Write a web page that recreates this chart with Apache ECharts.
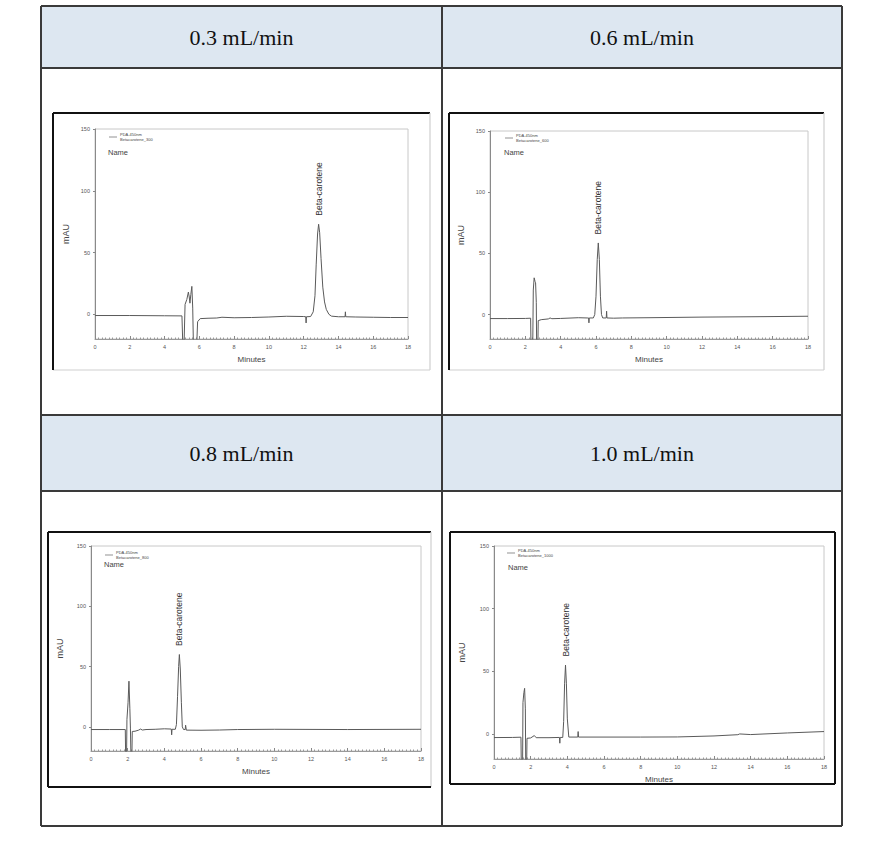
<!DOCTYPE html>
<html><head><meta charset="utf-8">
<script src="https://cdn.jsdelivr.net/npm/echarts@6/dist/echarts.min.js"></script>
<style>html,body{margin:0;padding:0;background:#fff}#c{width:881px;height:843px}</style>
</head><body><div id="c"></div><script>
// ---------- data ----------
const headers = ['0.3 mL/min', '0.6 mL/min', '0.8 mL/min', '1.0 mL/min'];
const detector = 'PDA-450nm';
const sampleNames = ['Betacarotene_300', 'Betacarotene_600', 'Betacarotene_800', 'Betacarotene_1000'];
const compound = 'Beta-carotene';
const nameLabel = 'Name';
const yTickValues = [0, 50, 100, 150];

// [minutes, mAU]
const trace03 = [[0,-1.0],[2,-1.0],[4,-1.2],[5.0,-1.3],[5.05,-25],[5.12,-25],[5.18,8],[5.28,12],[5.37,18],[5.42,14],[5.46,9],[5.51,16],[5.57,22.6],[5.62,5],[5.66,-25],[5.85,-25],[5.9,-6],[6.05,-3.5],[6.5,-3.2],[7,-3.0],[7.3,-2.4],[8,-2.8],[9,-2.6],[10,-2.2],[11,-1.6],[12,-1.8],[12.12,-2],[12.14,-7],[12.16,-2],[12.4,-1.8],[12.55,2],[12.65,15],[12.72,40],[12.8,65],[12.86,72.9],[12.92,66],[13.0,45],[13.1,22],[13.2,10],[13.3,4],[13.45,0],[13.6,-1.5],[14,-2],[14.38,-2],[14.4,2],[14.42,-2],[15,-2.2],[16,-2.4],[17,-2.6],[18,-2.6]];
const trace06 = [[0,-3.3],[1,-3.3],[2,-3.2],[2.3,-3.0],[2.32,-25],[2.42,-25],[2.45,20],[2.5,30],[2.55,27],[2.58,26],[2.62,10],[2.64,-25],[2.71,-25],[2.73,-5],[2.9,-4.2],[3.3,-3.6],[3.4,-2.8],[3.5,-3.4],[4,-3.2],[5,-2.6],[5.5,-2.8],[5.58,-2.8],[5.6,-6.8],[5.62,-2.8],[5.85,-2.8],[5.93,0],[6.0,15],[6.07,45],[6.13,58.5],[6.19,45],[6.25,15],[6.31,0],[6.38,-2.8],[6.58,-2.8],[6.6,2.7],[6.62,-2.8],[7,-3.0],[7.5,-2.8],[9,-2.6],[12,-2.1],[15,-1.8],[18,-1.4]];
const trace08 = [[0,-2.2],[1,-2.2],[1.87,-2.2],[1.89,-25],[1.94,-25],[1.96,6],[2.02,20],[2.07,37.9],[2.12,15],[2.15,-1],[2.17,-1],[2.18,-25],[2.23,-25],[2.25,-3.8],[2.4,-3.6],[2.6,-2.7],[2.7,-1.8],[2.8,-2.6],[3,-2.2],[3.5,-2],[4,-1.6],[4.38,-1.8],[4.4,-6.6],[4.42,-2],[4.6,-2],[4.66,2],[4.72,25],[4.78,50],[4.82,60],[4.87,48],[4.93,20],[4.98,0],[5.05,-2.2],[5.14,-2.2],[5.16,1.4],[5.2,-2.7],[6,-2.8],[7,-2.6],[8,-2.2],[10,-2.0],[14,-2.2],[18,-2.0]];
const trace10 = [[0,-2.9],[1,-2.8],[1.47,-2.6],[1.49,-25],[1.56,-25],[1.58,25],[1.63,33],[1.67,36.4],[1.71,20],[1.73,-25],[1.78,-25],[1.8,-3.5],[2.0,-3.2],[2.2,-1.3],[2.3,-3],[3,-3],[3.57,-2.8],[3.59,-7.4],[3.61,-2.8],[3.75,-2.8],[3.8,10],[3.85,40],[3.9,55],[3.95,40],[4.0,12],[4.08,-2.5],[4.57,-2.5],[4.59,1.9],[4.61,-2.5],[6,-2.5],[8,-2.5],[10,-2.4],[12,-1.6],[13.3,-0.6],[13.4,0],[14,-0.5],[16,0.8],[18,1.9]];
const traces = [trace03, trace06, trace08, trace10];

// ---------- layout ----------
const grids = [
  {left: 95, top: 129, width: 313, height: 210},
  {left: 490, top: 131, width: 318, height: 208},
  {left: 91, top: 546, width: 330, height: 205},
  {left: 494, top: 546, width: 330, height: 213}
];
const yNameGaps = [25, 25, 27, 28];
const boxes = [ // x0,y0,x1,y1, dark sides [top,right,bottom,left]
  [53,113,430,370,[1,0,0,1]],
  [449,113,824,370,[1,0,0,1]],
  [48,532,431,787,[1,0,1,1]],
  [450,532,835,784,[1,1,1,1]]
];
const legendPos = [[109,131],[505,132],[105,549],[507,547]];
const namePos = [[108,152],[504,152],[104,564],[508,567]];
const headerPos = [[241.5,37],[642,37],[241.5,453],[642,453]];

const seriesNames = sampleNames.map(s => detector + '\n' + s);

const graphic = [];
graphic.push({type:'rect', z:-10, shape:{x:41,y:6,width:801,height:62}, style:{fill:'#dde7f1'}});
graphic.push({type:'rect', z:-10, shape:{x:41,y:415,width:801,height:76}, style:{fill:'#dde7f1'}});
boxes.forEach(b => {
  const [x0,y0,x1,y1,d] = b;
  graphic.push({type:'rect', z:-9, shape:{x:x0,y:y0,width:x1-x0,height:y1-y0}, style:{fill:'#fff'}});
  const sides = [[x0,y0,x1,y0],[x1,y0,x1,y1],[x0,y1,x1,y1],[x0,y0,x0,y1]];
  sides.forEach((s,k) => {
    graphic.push({type:'line', z:-8, shape:{x1:s[0],y1:s[1],x2:s[2],y2:s[3]},
      style:{stroke: d[k] ? '#111' : '#cfcfcf', lineWidth: d[k] ? 2 : 1.2}});
  });
});
const tl = {stroke:'#3a3a3a', lineWidth:2};
[[41,6,842,6],[41,68,842,68],[41,415,842,415],[41,491,842,491],[41,826,842,826],
 [41,6,41,826],[442,6,442,826],[842,6,842,826]].forEach(s => {
  graphic.push({type:'line', z:-7, shape:{x1:s[0],y1:s[1],x2:s[2],y2:s[3]}, style:tl});
});
headers.forEach((h,i) => {
  graphic.push({type:'text', z:10, x:headerPos[i][0], y:headerPos[i][1],
    style:{text:h, fill:'#111', font:'22px "Liberation Serif", "DejaVu Serif", serif', textAlign:'center', textVerticalAlign:'middle'}});
});
namePos.forEach(p => {
  graphic.push({type:'text', z:10, x:p[0], y:p[1],
    style:{text:nameLabel, fill:'#444', font:'7.5px Arial, "Liberation Sans", sans-serif', textAlign:'left', textVerticalAlign:'middle'}});
});

const option = {
  animation: false,
  backgroundColor: '#fff',
  graphic: graphic,
  grid: grids.map(g => Object.assign({show:true, borderColor:'#c8c8c8', borderWidth:1, backgroundColor:'rgba(0,0,0,0)', z:4}, g)),
  legend: seriesNames.map((n,i) => ({
    data:[n], left:legendPos[i][0], top:legendPos[i][1], padding:0, itemGap:0,
    icon:'rect', itemWidth:8, itemHeight:0.8, selectedMode:false,
    textStyle:{fontSize:4, lineHeight:6, color:'#444', padding:[0,0,0,-2]}, z:12
  })),
  xAxis: grids.map((g,i) => ({
    type:'value', gridIndex:i, min:0, max:18, interval:2, z:8,
    axisLine:{show:true, onZero:false, lineStyle:{color:'#9a9a9a', width:1}},
    axisTick:{show:true, inside:true, length:3, lineStyle:{color:'#888'}},
    minorTick:{show:true, splitNumber:10, length:1.5, lineStyle:{color:'#999'}},
    axisLabel:{fontSize:5.5, color:'#555', margin:5, fontFamily:'Arial'},
    splitLine:{show:false},
    name:'Minutes', nameLocation:'middle', nameGap:16,
    nameTextStyle:{fontSize:8, color:'#444', fontFamily:'Arial'}
  })),
  yAxis: grids.map((g,i) => ({
    type:'value', gridIndex:i, min:-20, max:150, z:8,
    axisLine:{show:true, onZero:false, lineStyle:{color:'#8a8a8a', width:1}},
    axisTick:{show:true, customValues:yTickValues, length:2, lineStyle:{color:'#888'}},
    axisLabel:{customValues:yTickValues, fontSize:5.5, color:'#555', margin:5, fontFamily:'Arial'},
    splitLine:{show:false},
    name:'mAU', nameLocation:'middle', nameGap:yNameGaps[i],
    nameTextStyle:{fontSize:9, color:'#444', fontFamily:'Arial'}
  })),
  series: traces.map((t,i) => ({
    type:'line', name:seriesNames[i], xAxisIndex:i, yAxisIndex:i, data:t,
    symbol:'none', showSymbol:false, z:9,
    lineStyle:{color:'#5a5a5a', width:1}, itemStyle:{color:'#777'},
    markPoint:{
      symbol:'circle', symbolSize:1, itemStyle:{color:'rgba(0,0,0,0)'},
      data:[{type:'max'}],
      label:{show:true, formatter:compound, position:'top', distance:8, rotate:90,
        align:'left', verticalAlign:'middle', fontSize:8.5, color:'#333', fontFamily:'Arial'}
    }
  }))
};

const chart = echarts.init(document.getElementById('c'), null, {renderer:'svg', width:881, height:843});
chart.setOption(option);
</script></body></html>
